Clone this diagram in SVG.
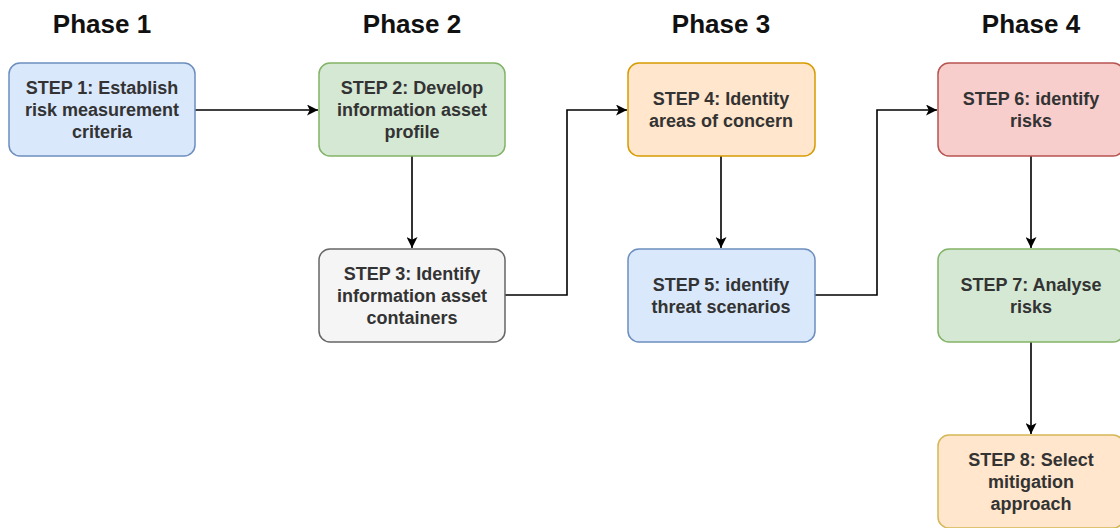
<svg xmlns="http://www.w3.org/2000/svg" width="1120" height="528" viewBox="0 0 1120 528">
<style>
.ph{font-family:"Liberation Sans",Arial,sans-serif;font-size:26px;font-weight:bold;fill:#111;text-anchor:middle}
.t{font-family:"Liberation Sans",Arial,sans-serif;font-size:18px;font-weight:bold;fill:#333;text-anchor:middle}
.n{stroke-width:1.5}
.blue{fill:#dae8fc;stroke:#6c8ebf}
.green{fill:#d5e8d4;stroke:#82b366}
.gray{fill:#f5f5f5;stroke:#666666}
.orange{fill:#ffe6cc;stroke:#d79b00}
.orange2{fill:#ffe6cc;stroke:#d6b656}
.red{fill:#f8cecc;stroke:#b85450}
.c{fill:none;stroke:#000;stroke-width:1.6;marker-end:url(#arr)}
</style>
<defs>
<marker id="arr" viewBox="0 0 10 10" refX="10" refY="5" markerWidth="11" markerHeight="11" markerUnits="userSpaceOnUse" orient="auto">
<path d="M0,0 L10,5 L0,10 L2.5,5 Z" fill="#000"/>
</marker>
</defs>
<rect width="1120" height="528" fill="#fff"/>
<g id="phases">
<text class="ph" x="102" y="33">Phase 1</text>
<text class="ph" x="412" y="33">Phase 2</text>
<text class="ph" x="721" y="33">Phase 3</text>
<text class="ph" x="1031" y="33">Phase 4</text>
</g>
<g id="connectors">
<path class="c" d="M195,110 H318"/>
<path class="c" d="M412,156 V248"/>
<path class="c" d="M505,295 H567 V110 H627"/>
<path class="c" d="M721,156 V248"/>
<path class="c" d="M815,295 H877 V110 H937"/>
<path class="c" d="M1031,156 V248"/>
<path class="c" d="M1031,342 V434"/>
</g>
<g id="step1">
<rect class="n blue" x="9" y="63" width="186" height="93" rx="11"/>
<text class="t" x="102" y="94">STEP 1: Establish</text>
<text class="t" x="102" y="116">risk measurement</text>
<text class="t" x="102" y="138">criteria</text>
</g>
<g id="step2">
<rect class="n green" x="319" y="63" width="186" height="93" rx="11"/>
<text class="t" x="412" y="94">STEP 2: Develop</text>
<text class="t" x="412" y="116">information asset</text>
<text class="t" x="412" y="138">profile</text>
</g>
<g id="step3">
<rect class="n gray" x="319" y="249" width="186" height="93" rx="11"/>
<text class="t" x="412" y="280">STEP 3: Identify</text>
<text class="t" x="412" y="302">information asset</text>
<text class="t" x="412" y="324">containers</text>
</g>
<g id="step4">
<rect class="n orange" x="628" y="63" width="187" height="93" rx="11"/>
<text class="t" x="721" y="105">STEP 4: Identity</text>
<text class="t" x="721" y="127">areas of concern</text>
</g>
<g id="step5">
<rect class="n blue" x="628" y="249" width="187" height="93" rx="11"/>
<text class="t" x="721" y="291">STEP 5: identify</text>
<text class="t" x="721" y="313">threat scenarios</text>
</g>
<g id="step6">
<rect class="n red" x="938" y="63" width="186" height="93" rx="11"/>
<text class="t" x="1031" y="105">STEP 6: identify</text>
<text class="t" x="1031" y="127">risks</text>
</g>
<g id="step7">
<rect class="n green" x="938" y="249" width="186" height="93" rx="11"/>
<text class="t" x="1031" y="291">STEP 7: Analyse</text>
<text class="t" x="1031" y="313">risks</text>
</g>
<g id="step8">
<rect class="n orange2" x="938" y="435" width="186" height="93" rx="11"/>
<text class="t" x="1031" y="466">STEP 8: Select</text>
<text class="t" x="1031" y="488">mitigation</text>
<text class="t" x="1031" y="510">approach</text>
</g>
</svg>
